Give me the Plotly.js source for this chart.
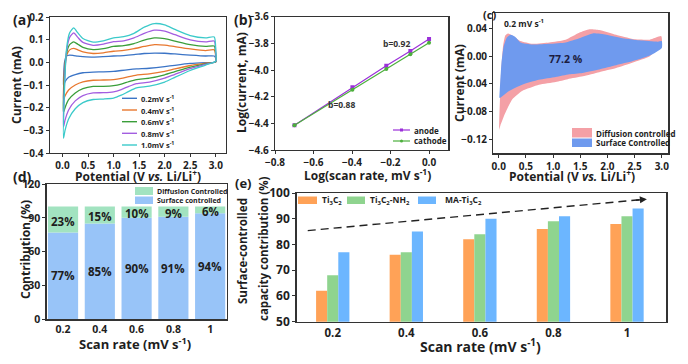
<!DOCTYPE html>
<html><head><meta charset="utf-8">
<script src="https://cdn.plot.ly/plotly-3.0.1.min.js"></script>
<style>html,body{margin:0;padding:0;background:#fff}#chart{width:688px;height:364px}</style>
</head><body><div id="chart"></div>
<script>
// ---------- (a) CV curves at different scan rates ----------
const cvUpV  = [0.02,0.04,0.08,0.14,0.22,0.3,0.4,0.6,0.8,1.0,1.2,1.4,1.6,1.8,2.0,2.2,2.5,2.8,2.97,3.0];
const cvLowV = [3.0,2.8,2.5,2.2,2.0,1.7,1.45,1.3,1.15,1.0,0.8,0.6,0.4,0.25,0.12,0.05,0.02];
const cvUp02 = [-0.105,0.0,0.028,0.032,0.03,0.027,0.025,0.023,0.025,0.028,0.03,0.034,0.039,0.041,0.04,0.037,0.032,0.028,0.028,0.018];
const cvUp04 = [-0.165,-0.03,0.03,0.055,0.062,0.055,0.046,0.039,0.042,0.049,0.053,0.06,0.07,0.078,0.076,0.069,0.059,0.052,0.055,0.025];
const cvUp06 = [-0.22,-0.06,0.04,0.078,0.09,0.08,0.066,0.056,0.06,0.07,0.074,0.083,0.098,0.108,0.105,0.094,0.078,0.07,0.072,0.03];
const cvUp08 = [-0.285,-0.09,0.05,0.11,0.13,0.11,0.088,0.075,0.08,0.091,0.095,0.108,0.128,0.142,0.138,0.122,0.099,0.09,0.094,0.04];
const cvUp10 = [-0.335,-0.12,0.06,0.13,0.152,0.13,0.105,0.089,0.095,0.108,0.113,0.128,0.155,0.171,0.165,0.145,0.118,0.108,0.112,0.05];
const cvLow02 = [0.001,-0.001,-0.005,-0.013,-0.019,-0.026,-0.029,-0.032,-0.036,-0.04,-0.042,-0.043,-0.046,-0.054,-0.066,-0.085,-0.105];
const cvLow04 = [0.002,-0.004,-0.014,-0.029,-0.04,-0.051,-0.056,-0.063,-0.071,-0.076,-0.078,-0.079,-0.086,-0.1,-0.122,-0.148,-0.165];
const cvLow06 = [0.003,-0.007,-0.021,-0.041,-0.055,-0.07,-0.076,-0.085,-0.096,-0.103,-0.106,-0.106,-0.116,-0.135,-0.165,-0.2,-0.22];
const cvLow08 = [0.004,-0.009,-0.028,-0.053,-0.07,-0.087,-0.094,-0.106,-0.12,-0.13,-0.134,-0.135,-0.147,-0.17,-0.21,-0.255,-0.285];
const cvLow10 = [0.005,-0.012,-0.036,-0.066,-0.087,-0.105,-0.113,-0.128,-0.145,-0.158,-0.162,-0.164,-0.178,-0.205,-0.25,-0.3,-0.335];
const cvNames = ['0.2mV s<sup>-1</sup>','0.4mV s<sup>-1</sup>','0.6mV s<sup>-1</sup>','0.8mV s<sup>-1</sup>','1.0mV s<sup>-1</sup>'];

// ---------- (b) log(i) vs log(v) ----------
const logRate = [-0.699,-0.398,-0.222,-0.097,0.0];
const logAnode = [-4.415,-4.13,-3.968,-3.857,-3.768];
const logCathode = [-4.415,-4.148,-3.993,-3.882,-3.795];

// ---------- (c) capacitive separation at 0.2 mV/s ----------
const totUpV  = [0.01,0.04,0.08,0.12,0.17,0.25,0.4,0.62,0.93,1.23,1.48,1.67,1.85,2.16,2.47,2.78,2.99,3.0];
const totUpI  = [-0.106,-0.03,0.015,0.03,0.033,0.03,0.022,0.018,0.02,0.024,0.034,0.039,0.038,0.031,0.025,0.024,0.029,0.019];
const totLowV = [2.78,2.47,2.16,1.85,1.55,1.27,1.05,0.74,0.43,0.25,0.12,0.03,0.01];
const totLowI = [0.0,-0.009,-0.017,-0.023,-0.029,-0.033,-0.037,-0.041,-0.05,-0.062,-0.082,-0.1,-0.106];
const surfUpV  = [0.01,0.05,0.09,0.15,0.22,0.3,0.4,0.62,0.93,1.23,1.48,1.73,1.98,2.28,2.59,2.93,3.0];
const surfUpI  = [-0.06,-0.01,0.014,0.027,0.031,0.028,0.02,0.017,0.018,0.02,0.026,0.033,0.031,0.026,0.023,0.021,0.022];
const surfLowV = [3.0,2.78,2.47,2.16,1.85,1.54,1.3,1.05,0.74,0.43,0.19,0.03];
const surfLowI = [0.012,0.001,-0.007,-0.013,-0.019,-0.024,-0.026,-0.03,-0.034,-0.041,-0.05,-0.06];

// ---------- (d) contribution ----------
const rateLabels = ['0.2','0.4','0.6','0.8','1'];
const surfaceContrib = [77,85,90,91,94];
const diffusionContrib = [23,15,10,9,6];

// ---------- (e) surface-controlled contribution ----------
const ti3c2 = [62,76,82,86,88];
const ti3c2NH2 = [68,77,84,89,91];
const maTi3c2 = [77,85,90,91,94];

// ---------- helpers ----------
const W = 688, H = 364;
const FONT = 'Open Sans, Arial, sans-serif';
const TXT = '#1e1e1e';
const px = v => v / W, py = v => 1 - v / H;
const dom = (a, b) => [a / W, b / W];
const domY = (top, bot) => [1 - bot / H, 1 - top / H];

function axis(extra) {
  return Object.assign({
    showline: true, mirror: true, linecolor: '#333', linewidth: 1.2,
    ticks: 'outside', ticklen: 3, tickwidth: 1, tickcolor: '#333',
    showgrid: false, zeroline: false, fixedrange: true,
    tickfont: {family: FONT, size: 10, weight: 'bold', color: TXT}
  }, extra);
}
const annotations = [];
const shapes = [];
function label(text, x, y, size, extra) {
  annotations.push(Object.assign({
    text: text, xref: 'paper', yref: 'paper', x: px(x), y: py(y),
    xanchor: 'center', yanchor: 'middle', showarrow: false,
    font: {family: FONT, size: size, weight: 'bold', color: TXT}
  }, extra || {}));
}
function legLine(x0, x1, y, color, width) {
  shapes.push({type: 'line', xref: 'paper', yref: 'paper', x0: px(x0), x1: px(x1), y0: py(y), y1: py(y), line: {color: color, width: width || 1.5}});
}
function legRect(x0, x1, y0, y1, color) {
  shapes.push({type: 'rect', xref: 'paper', yref: 'paper', x0: px(x0), x1: px(x1), y0: py(y1), y1: py(y0), fillcolor: color, line: {width: 0}});
}

const traces = [];

// (a)
const cvColors = ['#3b74c6', '#e8782f', '#3a9e3a', '#a35ee0', '#3ccaca'];
const cvUps = [cvUp02, cvUp04, cvUp06, cvUp08, cvUp10];
const cvLows = [cvLow02, cvLow04, cvLow06, cvLow08, cvLow10];
for (let k = 0; k < 5; k++) {
  traces.push({
    type: 'scatter', mode: 'lines', xaxis: 'x', yaxis: 'y',
    x: cvUpV.concat(cvLowV), y: cvUps[k].concat(cvLows[k]),
    line: {color: cvColors[k], width: 1.3, shape: 'spline', smoothing: 0.6},
    name: cvNames[k], showlegend: false
  });
}
// (b)
traces.push({type: 'scatter', mode: 'lines+markers', xaxis: 'x2', yaxis: 'y2', x: logRate, y: logAnode,
  line: {color: '#9b30d9', width: 1.2}, marker: {symbol: 'square', size: 4, color: '#9b30d9'}, name: 'anode', showlegend: false});
traces.push({type: 'scatter', mode: 'lines+markers', xaxis: 'x2', yaxis: 'y2', x: logRate, y: logCathode,
  line: {color: '#4caf3c', width: 1.2}, marker: {symbol: 'circle', size: 4, color: '#4caf3c'}, name: 'cathode', showlegend: false});
// (c)
const PINK = '#f4a0a6', SBLUE = '#6f9aee';
traces.push({type: 'scatter', mode: 'lines', xaxis: 'x3', yaxis: 'y3', fill: 'toself', fillcolor: PINK,
  x: totUpV.concat(totLowV), y: totUpI.concat(totLowI), line: {width: 0, shape: 'spline', smoothing: 0.5}, name: 'Diffusion controlled', showlegend: false});
traces.push({type: 'scatter', mode: 'lines', xaxis: 'x3', yaxis: 'y3', fill: 'toself', fillcolor: SBLUE,
  x: surfUpV.concat(surfLowV), y: surfUpI.concat(surfLowI), line: {width: 0, shape: 'spline', smoothing: 0.5}, name: 'Surface Controlled', showlegend: false});
// (d)
const DBLUE = '#98c4f8', DGREEN = '#a2e3c0';
traces.push({type: 'bar', xaxis: 'x4', yaxis: 'y4', x: rateLabels, y: surfaceContrib, width: 0.82, offset: -0.41,
  marker: {color: DBLUE, line: {width: 0}}, name: 'Surface controlled', showlegend: false, hoverinfo: 'skip'});
traces.push({type: 'bar', xaxis: 'x4', yaxis: 'y4', x: rateLabels, y: diffusionContrib, base: surfaceContrib, width: 0.82, offset: -0.41,
  marker: {color: DGREEN, line: {width: 0}}, name: 'Diffusion Controlled', showlegend: false, hoverinfo: 'skip'});
// (e)
const EOR = '#ffa257', EGR = '#8fd48f', EBL = '#6cb6ff';
traces.push({type: 'bar', xaxis: 'x5', yaxis: 'y5', x: rateLabels, y: ti3c2, marker: {color: EOR}, name: 'Ti3C2', showlegend: false});
traces.push({type: 'bar', xaxis: 'x5', yaxis: 'y5', x: rateLabels, y: ti3c2NH2, marker: {color: EGR}, name: 'Ti3C2-NH2', showlegend: false});
traces.push({type: 'bar', xaxis: 'x5', yaxis: 'y5', x: rateLabels, y: maTi3c2, marker: {color: EBL}, name: 'MA-Ti3C2', showlegend: false});

// annotations inside (d): percentages centred in their segments
for (let i = 0; i < rateLabels.length; i++) {
  annotations.push({xref: 'x4', yref: 'y4', x: i, y: surfaceContrib[i] / 2, text: surfaceContrib[i] + '%', showarrow: false,
    font: {family: FONT, size: 11.5, color: TXT, weight: 'bold'}});
  annotations.push({xref: 'x4', yref: 'y4', x: i, y: surfaceContrib[i] + diffusionContrib[i] / 2 - 1.5, text: diffusionContrib[i] + '%', showarrow: false,
    font: {family: FONT, size: 11.5, color: TXT, weight: 'bold'}});
}

// panel letters and axis titles
label('(a)', 22, 19, 14);
label('(b)', 243, 19, 14);
label('(c)', 489, 15, 11);
label('(d)', 22, 176, 14);
label('(e)', 243, 183, 13);
label('Current (mA)', 16, 85, 12, {textangle: -90});
label('Potential (V <i>vs.</i> Li/Li<sup>+</sup>)', 138, 176, 12);
label('Log(current, mA)', 242, 83, 12, {textangle: -90});
label('Log(scan rate, mV s<sup>-1</sup>)', 368, 175, 12);
label('Current (mA)', 460, 83, 12, {textangle: -90});
label('Potential (V <i>vs.</i> Li/Li<sup>+</sup>)', 572, 176, 12);
label('Contribution (%)', 25, 250, 12, {textangle: -90});
label('Scan rate (mV s<sup>-1</sup>)', 135, 343, 13);
label('Surface-controlled', 242, 251, 11.5, {textangle: -90});
label('capacity contribution (%)', 263, 249, 11.5, {textangle: -90});
label('Scan rate (mV s<sup>-1</sup>)', 480, 346, 14);

// in-plot texts
label('b=0.92', 396, 43, 8.5, {font: {family: FONT, size: 8.5, weight: 'bold', color: '#333'}});
label('b=0.88', 341, 104, 8.5, {font: {family: FONT, size: 8.5, weight: 'bold', color: '#333'}});
label('77.2 %', 566, 59, 10.5, {font: {family: FONT, size: 10.5, weight: 'bold', color: '#1c1c40'}});
label('0.2 mV s<sup>-1</sup>', 502, 23, 8.5, {xanchor: 'left'});

// legend (a)
const legA = [98.3, 110, 121.7, 133.3, 145];
for (let k = 0; k < 5; k++) {
  legLine(122, 137, legA[k], cvColors[k], 1.4);
  label(cvNames[k], 139, legA[k], 7.5, {xanchor: 'left'});
}
// legend (b)
legLine(393, 410, 130, '#9b30d9', 1.2);
legLine(393, 410, 141, '#4caf3c', 1.2);
shapes.push({type: 'rect', xref: 'paper', yref: 'paper', x0: px(400), x1: px(403), y0: py(131.5), y1: py(128.5), fillcolor: '#9b30d9', line: {width: 0}});
shapes.push({type: 'circle', xref: 'paper', yref: 'paper', x0: px(400), x1: px(403), y0: py(142.5), y1: py(139.5), fillcolor: '#4caf3c', line: {width: 0}});
label('anode', 412, 130, 8, {xanchor: 'left'});
label('cathode', 412, 141, 8, {xanchor: 'left'});
// legend (c)
legRect(572, 592, 128, 137.5, PINK);
legRect(572, 592, 138.5, 147, SBLUE);
label('Diffusion controlled', 594, 133, 8, {xanchor: 'left'});
label('Surface Controlled', 594, 143, 8, {xanchor: 'left'});
// legend (d)
legRect(135, 153, 187, 195, DGREEN);
legRect(135, 153, 196.5, 204, DBLUE);
label('Diffusion Controlled', 155, 191.5, 7, {xanchor: 'left'});
label('Surface controlled', 155, 200.5, 7, {xanchor: 'left'});
// legend (e)
legRect(298, 317, 196.5, 204, EOR);
legRect(347, 365, 196.5, 204, EGR);
legRect(418, 436, 196.5, 204, EBL);
label('Ti<sub>3</sub>C<sub>2</sub>', 320, 200.5, 8.5, {xanchor: 'left'});
label('Ti<sub>3</sub>C<sub>2</sub>-NH<sub>2</sub>', 368, 200.5, 8.5, {xanchor: 'left'});
label('MA-Ti<sub>3</sub>C<sub>2</sub>', 443, 200.5, 8.5, {xanchor: 'left'});

// dashed trend arrow in (e)
shapes.push({type: 'line', xref: 'x5', yref: 'y5', x0: -0.34, y0: 85.4, x1: 4.2, y1: 97.45, line: {color: '#222', width: 1.4, dash: '8px,5px'}});
annotations.push({xref: 'x5', yref: 'y5', x: 4.27, y: 97.6, ax: -14, ay: 1.3, text: ' ', showarrow: true, arrowhead: 2, arrowsize: 1, arrowwidth: 1.4, arrowcolor: '#222', standoff: 0});

const layout = {
  width: W, height: H, margin: {l: 0, r: 0, t: 0, b: 0},
  paper_bgcolor: '#fff', plot_bgcolor: '#fff', showlegend: false,
  barmode: 'group', bargap: 0.547, bargroupgap: 0,
  font: {family: FONT, color: TXT},
  xaxis: axis({domain: dom(49.7, 226), range: [-0.25, 3.2], dtick: 0.5, tick0: 0, tickformat: '.1f', anchor: 'y'}),
  yaxis: axis({domain: domY(17, 153), range: [-0.4, 0.2], dtick: 0.1, tick0: 0, tickformat: '.1f', anchor: 'x'}),
  xaxis2: axis({domain: dom(275, 448.3), range: [-0.8, 0.1], dtick: 0.2, tick0: 0, tickformat: '.1f', anchor: 'y2'}),
  yaxis2: axis({domain: domY(16.7, 150), range: [-4.6, -3.6], dtick: 0.2, tick0: 0, tickformat: '.1f', anchor: 'x2'}),
  xaxis3: axis({domain: dom(493.3, 668.3), range: [-0.1, 3.12], dtick: 0.5, tick0: 0, tickformat: '.1f', anchor: 'y3'}),
  yaxis3: axis({domain: domY(13.3, 153.3), range: [-0.14, 0.062], dtick: 0.04, tick0: 0, tickformat: '.2f', anchor: 'x3'}),
  xaxis4: axis({domain: dom(46.5, 226.7), type: 'category', range: [-0.45, 4.45], ticks: '', anchor: 'y4',
    tickfont: {family: FONT, size: 10.5, weight: 'bold', color: TXT}}),
  yaxis4: axis({domain: domY(184, 319.3), range: [0, 120], dtick: 30, anchor: 'x4',
    tickfont: {family: FONT, size: 10.5, weight: 'bold', color: TXT}}),
  xaxis5: axis({domain: dom(296.7, 666), type: 'category', range: [-0.49, 4.53], ticks: '', anchor: 'y5', linewidth: 1.5,
    tickfont: {family: FONT, size: 11.5, weight: 'bold', color: TXT}}),
  yaxis5: axis({domain: domY(193, 321.7), range: [50, 100], dtick: 10, anchor: 'x5', linewidth: 1.5,
    tickfont: {family: FONT, size: 12, weight: 'bold', color: TXT}}),
  annotations: annotations, shapes: shapes
};
Plotly.newPlot('chart', traces, layout, {staticPlot: true, displayModeBar: false});
</script>
</body></html>
